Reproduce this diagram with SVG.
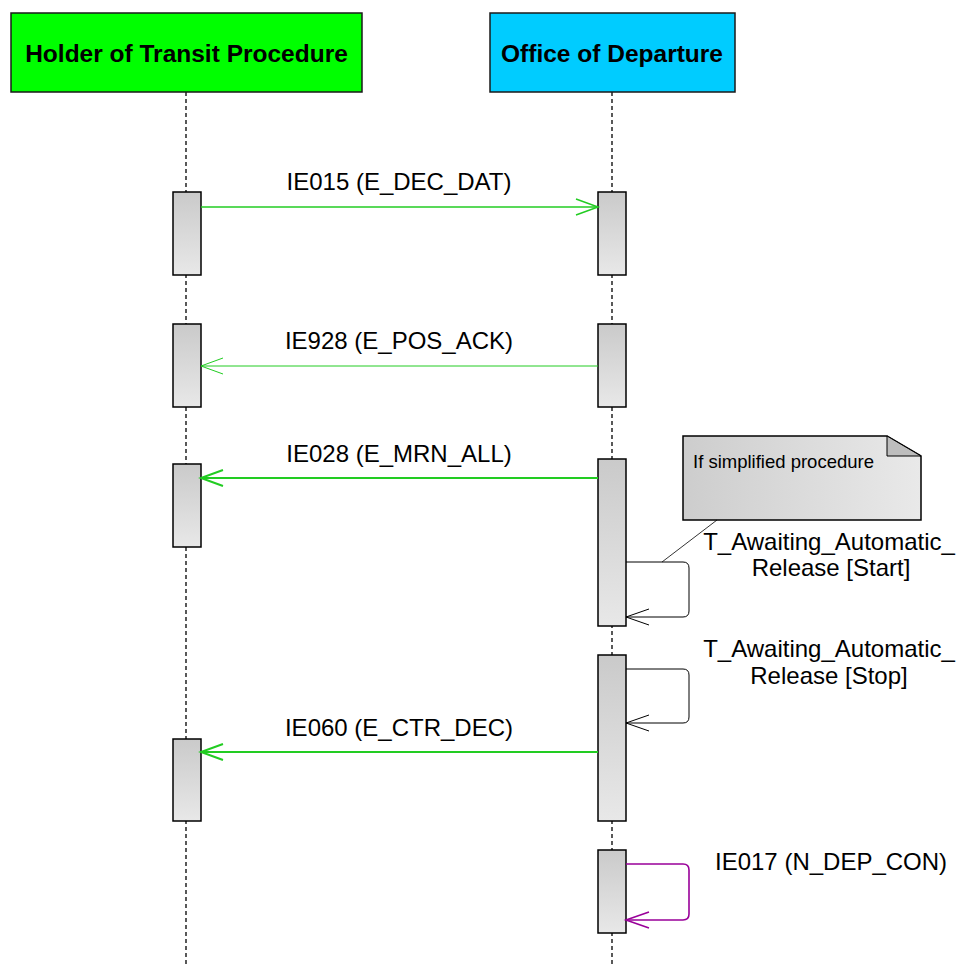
<svg xmlns="http://www.w3.org/2000/svg" width="960" height="964" viewBox="0 0 960 964">
<style>
.hdr{stroke:#1a1a1a;stroke-width:1.5}
.htxt{font-family:"Liberation Sans",Arial,sans-serif;font-size:24.5px;font-weight:bold;fill:#000;text-anchor:middle}
.life{stroke:#000;stroke-width:1.3;stroke-dasharray:4,3;fill:none}
.act{fill:url(#actg);stroke:#000;stroke-width:1.5}
.lbl{font-family:"Liberation Sans",Arial,sans-serif;font-size:24px;fill:#000}
.mid{text-anchor:middle}
.g{stroke:#22cc22;fill:none}
.k{stroke:#000;stroke-width:1;fill:none}
.p{stroke:#990099;stroke-width:1.6;fill:none}
</style>
<defs>
<linearGradient id="actg" x1="0" y1="0" x2="0" y2="1">
<stop offset="0" stop-color="#cacaca"/>
<stop offset="1" stop-color="#e8e8e8"/>
</linearGradient>
<linearGradient id="noteg" x1="0" y1="0" x2="1" y2="0">
<stop offset="0" stop-color="#cdcdcd"/>
<stop offset="1" stop-color="#e9e9e9"/>
</linearGradient>
</defs>

<g id="lifelines">
<line class="life" x1="186" y1="92" x2="186" y2="964"/>
<line class="life" x1="612" y1="92" x2="612" y2="964"/>
</g>

<g id="holder">
<rect class="hdr" x="11" y="13" width="351" height="79" fill="#00ff00"/>
<text class="htxt" x="186.5" y="62">Holder of Transit Procedure</text>
</g>
<g id="office">
<rect class="hdr" x="490" y="13" width="245" height="79" fill="#00ccff"/>
<text class="htxt" x="612" y="62">Office of Departure</text>
</g>

<g id="activations">
<rect class="act" x="173" y="192" width="28" height="83"/>
<rect class="act" x="598" y="192" width="28" height="83"/>
<rect class="act" x="173" y="324" width="28" height="83"/>
<rect class="act" x="598" y="324" width="28" height="83"/>
<rect class="act" x="173" y="464" width="28" height="83"/>
<rect class="act" x="598" y="459" width="28" height="167"/>
<rect class="act" x="598" y="655" width="28" height="166"/>
<rect class="act" x="173" y="739" width="28" height="82"/>
<rect class="act" x="598" y="850" width="28" height="83"/>
</g>

<g id="note">
<path d="M683,436 H887 L921,456 V520 H683 Z" fill="url(#noteg)" stroke="#000" stroke-width="1.5"/>
<path d="M887,436 V456 H921 Z" fill="#bdbdbd" stroke="#000" stroke-width="1"/>
<text x="693" y="468" font-family="Liberation Sans, Arial, sans-serif" font-size="18.5" fill="#000">If simplified procedure</text>
</g>

<g id="connectors">
<line x1="717" y1="520" x2="662" y2="562" stroke="#000" stroke-width="0.8"/>

<line class="g" stroke-width="1.5" x1="201" y1="207" x2="598" y2="207"/>
<polyline class="g" stroke-width="1.5" points="576,199 598,207 576,215"/>
<text class="lbl mid" x="399" y="190">IE015 (E_DEC_DAT)</text>

<line class="g" stroke-width="1" x1="598" y1="366" x2="201" y2="366"/>
<polyline class="g" stroke-width="1" points="223,358 201,366 223,374"/>
<text class="lbl mid" x="399" y="349">IE928 (E_POS_ACK)</text>

<line class="g" stroke-width="2" x1="598" y1="478" x2="201" y2="478"/>
<polyline class="g" stroke-width="2" points="223,470 201,478 223,486"/>
<text class="lbl mid" x="399" y="462">IE028 (E_MRN_ALL)</text>

<path class="k" d="M626,562 H683 Q689,562 689,568 V611 Q689,617 683,617 H626"/>
<polyline class="k" points="649,609 626,617 649,625"/>
<text class="lbl mid" x="829" y="550">T_Awaiting_Automatic_</text>
<text class="lbl mid" x="831" y="576">Release [Start]</text>

<path class="k" d="M626,669 H683 Q689,669 689,675 V717 Q689,723 683,723 H626"/>
<polyline class="k" points="649,715 626,723 649,731"/>
<text class="lbl mid" x="829" y="657">T_Awaiting_Automatic_</text>
<text class="lbl mid" x="829" y="684">Release [Stop]</text>

<line class="g" stroke-width="2" x1="598" y1="752" x2="201" y2="752"/>
<polyline class="g" stroke-width="2" points="223,744 201,752 223,760"/>
<text class="lbl mid" x="399" y="736">IE060 (E_CTR_DEC)</text>

<path class="p" d="M626,864 H683 Q689,864 689,870 V914 Q689,920 683,920 H626"/>
<polyline class="p" points="649,912 626,920 649,928"/>
<text class="lbl" x="715" y="870">IE017 (N_DEP_CON)</text>
</g>
</svg>
